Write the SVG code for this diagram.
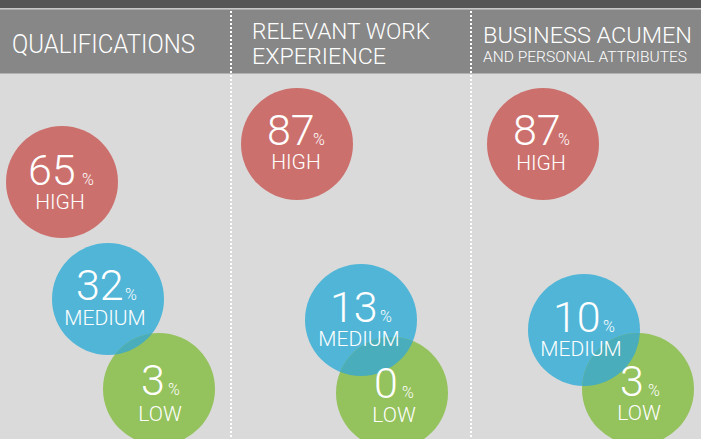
<svg xmlns="http://www.w3.org/2000/svg" width="701" height="439" viewBox="0 0 701 439">
  <defs>
    <style>
      text { font-family: Roboto, "Liberation Sans", sans-serif; fill: #ffffff; }
      .hdr { font-size: 22px; font-weight: 300; }
      .num { font-size: 43px; font-weight: 300; }
      .pct { font-size: 16px; font-weight: 300; }
      .lbl { font-size: 21px; text-anchor: middle; font-weight: 300; }
      .red { fill: #cc706d; }
      .blue { fill: #50b5d7; }
      .green { fill: #94c25c; }
      .ovl { fill: #49adbb; }
      .dots { stroke: #ffffff; stroke-width: 2; stroke-dasharray: 2 2; fill: none; }
    </style>
    <clipPath id="g1"><circle cx="159" cy="389" r="56"/></clipPath>
    <clipPath id="g2"><circle cx="392" cy="393" r="56"/></clipPath>
    <clipPath id="g3"><circle cx="638" cy="389" r="56"/></clipPath>
  </defs>

  <g id="background">
    <rect x="0" y="0" width="701" height="439" fill="#dadada"/>
    <rect x="0" y="0" width="701" height="8" fill="#565656"/>
    <rect x="0" y="8" width="701" height="1.5" fill="#c9c9c9"/>
    <rect x="0" y="9.5" width="701" height="64" fill="#878787"/>
  </g>

  <g id="connectors">
    <line class="dots" x1="231" y1="11" x2="231" y2="439"/>
    <line class="dots" x1="471" y1="11" x2="471" y2="439"/>
  </g>

  <g id="header-qualifications">
    <text x="12" y="53" font-size="25" font-weight="300" textLength="183" lengthAdjust="spacingAndGlyphs">QUALIFICATIONS</text>
  </g>
  <g id="header-experience">
    <text class="hdr" x="252" y="39" textLength="178" lengthAdjust="spacingAndGlyphs">RELEVANT WORK</text>
    <text class="hdr" x="252" y="64" textLength="134" lengthAdjust="spacingAndGlyphs">EXPERIENCE</text>
  </g>
  <g id="header-business">
    <text class="hdr" x="483" y="43" textLength="209" lengthAdjust="spacingAndGlyphs">BUSINESS ACUMEN</text>
    <text x="483" y="62" font-size="14.5" font-weight="300" textLength="204" lengthAdjust="spacingAndGlyphs">AND PERSONAL ATTRIBUTES</text>
  </g>

  <!-- Column 1 -->
  <g id="q-high">
    <circle class="red" cx="62" cy="182" r="56"/>
    <text class="num" x="28" y="185" font-size="47">65</text>
    <text class="pct" x="82" y="185">%</text>
    <text class="lbl" x="60" y="209">HIGH</text>
  </g>
  <g id="q-medium">
    <circle class="blue" cx="108" cy="299" r="56"/>
  </g>
  <g id="q-low">
    <circle class="green" cx="159" cy="389" r="56"/>
    <circle class="ovl" cx="108" cy="299" r="56" clip-path="url(#g1)"/>
  </g>
  <g id="q-labels">
    <text class="num" x="76" y="300">32</text>
    <text class="pct" x="125" y="300">%</text>
    <text class="lbl" x="105" y="325">MEDIUM</text>
    <text class="num" x="141" y="395">3</text>
    <text class="pct" x="168" y="395">%</text>
    <text class="lbl" x="160" y="421">LOW</text>
  </g>

  <!-- Column 2 -->
  <g id="e-high">
    <circle class="red" cx="297" cy="144" r="56"/>
    <text class="num" x="267" y="145">87</text>
    <text class="pct" x="313" y="145">%</text>
    <text class="lbl" x="296" y="169">HIGH</text>
  </g>
  <g id="e-medium">
    <circle class="blue" cx="361" cy="320" r="56"/>
  </g>
  <g id="e-low">
    <circle class="green" cx="392" cy="393" r="56"/>
    <circle class="ovl" cx="361" cy="320" r="56" clip-path="url(#g2)"/>
  </g>
  <g id="e-labels">
    <text class="num" x="330" y="322">13</text>
    <text class="pct" x="380" y="322">%</text>
    <text class="lbl" x="359" y="346">MEDIUM</text>
    <text class="num" x="374" y="398">0</text>
    <text class="pct" x="402" y="398">%</text>
    <text class="lbl" x="394" y="422">LOW</text>
  </g>

  <!-- Column 3 -->
  <g id="b-high">
    <circle class="red" cx="543" cy="144" r="56"/>
    <text class="num" x="513" y="145">87</text>
    <text class="pct" x="558" y="145">%</text>
    <text class="lbl" x="541" y="170">HIGH</text>
  </g>
  <g id="b-medium">
    <circle class="blue" cx="584" cy="330" r="56"/>
  </g>
  <g id="b-low">
    <circle class="green" cx="638" cy="389" r="56"/>
    <circle class="ovl" cx="584" cy="330" r="56" clip-path="url(#g3)"/>
  </g>
  <g id="b-labels">
    <text class="num" x="553" y="332">10</text>
    <text class="pct" x="603" y="332">%</text>
    <text class="lbl" x="581" y="356">MEDIUM</text>
    <text class="num" x="620" y="396">3</text>
    <text class="pct" x="648" y="396">%</text>
    <text class="lbl" x="639" y="420">LOW</text>
  </g>
</svg>
